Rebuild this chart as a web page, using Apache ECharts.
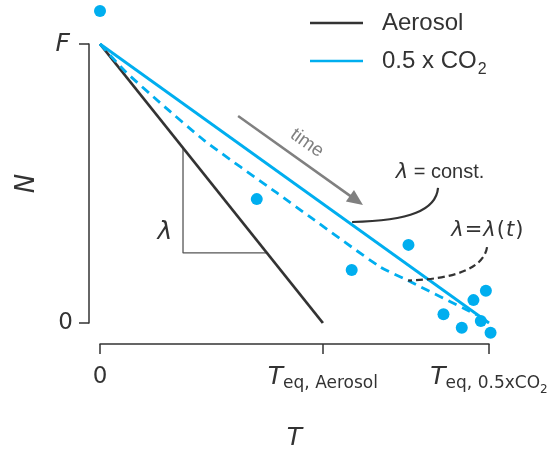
<!DOCTYPE html>
<html>
<head>
<meta charset="utf-8">
<script src="https://cdn.jsdelivr.net/npm/echarts@6/dist/echarts.min.js"></script>
<style>
  html, body { margin: 0; padding: 0; background: #fff; }
  #chart { width: 553px; height: 450px; }
</style>
</head>
<body>
<div id="chart"></div>
<script>
// Forcing and equilibrium temperatures (normalised units: F = 1, T_eq,0.5xCO2 = 1)
const F = 1;
const teqAerosol = 0.573;
const teqCO2 = 1.0;

// Constant-feedback lines N = F - lambda * T
const aerosolT = [0, teqAerosol];
const aerosolN = [F, 0];
const co2T = [0, teqCO2];
const co2N = [F, 0];

// Time-varying feedback path for 0.5 x CO2
const co2VarT = [0, 0.064, 0.154, 0.270, 0.455, 0.540, 0.720, 0.789, 0.969];
const co2VarN = [1.0, 0.903, 0.790, 0.652, 0.466, 0.380, 0.201, 0.154, 0.029];

// Model output points
const obsT = [0, 0.403, 0.647, 0.793, 0.883, 0.930, 0.960, 0.992, 0.979, 1.004];
const obsN = [1.118, 0.444, 0.190, 0.280, 0.031, -0.017, 0.082, 0.116, 0.007, -0.035];

// Tick positions
const xTicks = [0, teqAerosol, teqCO2];

const BLUE = '#00aeef';
const DARK = '#333333';
const GREY = '#808080';
const MATH = 'DejaVu Sans';
const SANS = 'Liberation Sans';

const pairs = (xs, ys) => xs.map((x, i) => [x, ys[i]]);

// Slope triangle on the aerosol line
const triX0 = 0.2134, triY1 = 0.251;
const triangle = [
  [triX0, F * (1 - triX0 / teqAerosol)],
  [triX0, triY1],
  [teqAerosol * (1 - triY1 / F), triY1]
];

const chart = echarts.init(document.getElementById('chart'), null, { renderer: 'canvas' });

const option = {
  backgroundColor: '#ffffff',
  animation: false,
  grid: { left: 100, right: 64, top: 44, bottom: 127, containLabel: false, outerBoundsMode: 'none' },
  legend: {
    orient: 'vertical',
    left: 310,
    top: 11,
    padding: 0,
    itemWidth: 53,
    itemHeight: 3,
    itemGap: 14,
    icon: 'path://M0,0H60V3H0Z',
    data: ['Aerosol', '0.5 x CO2'],
    formatter: function (name) {
      if (name === '0.5 x CO2') return '{n|0.5 x CO}{s|2}';
      return '{n|' + name + '}';
    },
    textStyle: {
      rich: {
        n: { fontFamily: SANS, fontSize: 24, color: DARK, padding: [0, 0, 0, 14], lineHeight: 28 },
        s: { fontFamily: SANS, fontSize: 16, color: DARK, verticalAlign: 'bottom', padding: [0, 0, -3, 1], lineHeight: 20 }
      }
    }
  },
  xAxis: {
    type: 'value',
    min: 0,
    max: 1,
    offset: 21,
    name: 'T',
    nameLocation: 'middle',
    nameGap: 82,
    nameTextStyle: { fontFamily: MATH, fontStyle: 'italic', fontSize: 25, color: DARK },
    axisLine: { show: true, onZero: false, lineStyle: { color: DARK, width: 1.5 } },
    axisTick: { show: true, length: 10, customValues: xTicks, lineStyle: { color: DARK, width: 1.5 } },
    splitLine: { show: false },
    axisLabel: {
      customValues: xTicks,
      margin: 20,
      formatter: function (v) {
        if (Math.abs(v) < 1e-9) return '{z|0}';
        if (Math.abs(v - teqAerosol) < 1e-6) return '{t|T}{s|eq, Aerosol}';
        return '{t|T}{s|eq, 0.5xCO}{ss|2}';
      },
      rich: {
        z: { fontFamily: MATH, fontSize: 23, color: DARK, lineHeight: 26 },
        t: { fontFamily: MATH, fontStyle: 'italic', fontSize: 25, color: DARK, lineHeight: 26 },
        s: { fontFamily: MATH, fontSize: 17, color: DARK, verticalAlign: 'bottom', lineHeight: 20, padding: [0, 0, -2, 0] },
        ss: { fontFamily: MATH, fontSize: 12, color: DARK, verticalAlign: 'bottom', lineHeight: 14, padding: [0, 0, -6, 0] }
      }
    }
  },
  yAxis: {
    type: 'value',
    min: 0,
    max: 1,
    interval: 1,
    offset: 11,
    name: 'N',
    nameLocation: 'middle',
    nameRotate: 90,
    nameGap: 49,
    nameTextStyle: { fontFamily: MATH, fontStyle: 'italic', fontSize: 26, color: DARK },
    axisLine: { show: true, onZero: false, lineStyle: { color: DARK, width: 1.5 } },
    axisTick: { show: true, length: 10, lineStyle: { color: DARK, width: 1.5 } },
    splitLine: { show: false },
    axisLabel: {
      margin: 16,
      formatter: function (v) { return v === F ? '{f|F}' : '{z|0}'; },
      rich: {
        f: { fontFamily: MATH, fontStyle: 'italic', fontSize: 25, color: DARK, padding: [0, 3, 0, 0] },
        z: { fontFamily: MATH, fontSize: 23, color: DARK }
      }
    }
  },
  series: [
    {
      name: 'Aerosol', type: 'line', data: pairs(aerosolT, aerosolN),
      symbol: 'none', color: DARK, lineStyle: { color: DARK, width: 2.8 }, z: 3
    },
    {
      name: '0.5 x CO2', type: 'line', data: pairs(co2T, co2N),
      symbol: 'none', color: BLUE, lineStyle: { color: BLUE, width: 2.8 }, z: 3
    },
    {
      name: 'lambda(t)', type: 'line', data: pairs(co2VarT, co2VarN),
      symbol: 'none', smooth: 0.2, color: BLUE,
      lineStyle: { color: BLUE, width: 2.8, type: [9, 6] }, z: 3
    },
    {
      name: 'slope', type: 'line', data: triangle,
      symbol: 'none', color: '#555', lineStyle: { color: '#555555', width: 1.3 }, z: 2
    },
    {
      name: 'points', type: 'scatter', data: pairs(obsT, obsN),
      symbolSize: 12, clip: false, itemStyle: { color: BLUE, opacity: 1 }, z: 5
    }
  ]
};

chart.setOption(option);

// Annotations placed in data coordinates
const P = (x, y) => chart.convertToPixel({ gridIndex: 0 }, [x, y]);

const arrowFrom = P(0.355, 0.742);
const arrowTo = P(0.676, 0.423);
const ang = Math.atan2(arrowTo[1] - arrowFrom[1], arrowTo[0] - arrowFrom[0]);
const headLen = 16, headHalf = 7;
const ux = Math.cos(ang), uy = Math.sin(ang);
const baseX = arrowTo[0] - ux * headLen, baseY = arrowTo[1] - uy * headLen;
const head = [
  [arrowTo[0], arrowTo[1]],
  [baseX - uy * headHalf, baseY + ux * headHalf],
  [baseX + uy * headHalf, baseY - ux * headHalf]
];

const timePos = P(0.532, 0.645);
const constPos = P(0.874, 0.541);
const varPos = P(0.997, 0.330);
const lamPos = P(0.167, 0.323);

const c0 = P(0.869, 0.484), c1 = P(0.864, 0.405), c2 = P(0.797, 0.366), c3 = P(0.648, 0.362);
const d0 = P(0.995, 0.272), d1 = P(0.987, 0.197), d2 = P(0.913, 0.158), d3 = P(0.792, 0.152);

chart.setOption({
  graphic: [
    {
      type: 'line', z: 10,
      shape: { x1: arrowFrom[0], y1: arrowFrom[1], x2: baseX + ux * 2, y2: baseY + uy * 2 },
      style: { stroke: GREY, lineWidth: 2.5 }
    },
    {
      type: 'polygon', z: 10,
      shape: { points: head },
      style: { fill: GREY }
    },
    {
      type: 'text', z: 10,
      x: timePos[0], y: timePos[1], rotation: -ang,
      style: { text: 'time', fontFamily: SANS, fontSize: 19, fill: GREY, align: 'center', verticalAlign: 'middle' }
    },
    {
      type: 'bezierCurve', z: 10,
      shape: { x1: c0[0], y1: c0[1], cpx1: c1[0], cpy1: c1[1], cpx2: c2[0], cpy2: c2[1], x2: c3[0], y2: c3[1] },
      style: { stroke: DARK, lineWidth: 2.2, fill: null }
    },
    {
      type: 'bezierCurve', z: 10,
      shape: { x1: d0[0], y1: d0[1], cpx1: d1[0], cpy1: d1[1], cpx2: d2[0], cpy2: d2[1], x2: d3[0], y2: d3[1] },
      style: { stroke: DARK, lineWidth: 2.2, fill: null, lineDash: [7, 4] }
    },
    {
      type: 'text', z: 10,
      x: constPos[0], y: constPos[1],
      style: {
        text: '{m|λ}{r| = const.}',
        align: 'center', verticalAlign: 'middle',
        rich: {
          m: { fontFamily: MATH, fontStyle: 'italic', fontSize: 21, fill: DARK },
          r: { fontFamily: SANS, fontSize: 20, fill: DARK }
        }
      }
    },
    {
      type: 'text', z: 10,
      x: varPos[0], y: varPos[1],
      style: {
        text: '{m|λ}{u|=}{m|λ}{u|(}{m|t}{u|)}',
        align: 'center', verticalAlign: 'middle',
        rich: {
          m: { fontFamily: MATH, fontStyle: 'italic', fontSize: 21, fill: DARK },
          u: { fontFamily: MATH, fontSize: 21, fill: DARK, padding: [0, 1, 0, 1] }
        }
      }
    },
    {
      type: 'text', z: 10,
      x: lamPos[0], y: lamPos[1],
      style: {
        text: 'λ', fontFamily: MATH, fontStyle: 'italic', fontSize: 25, fill: DARK,
        align: 'center', verticalAlign: 'middle'
      }
    }
  ]
});
</script>
</body>
</html>
